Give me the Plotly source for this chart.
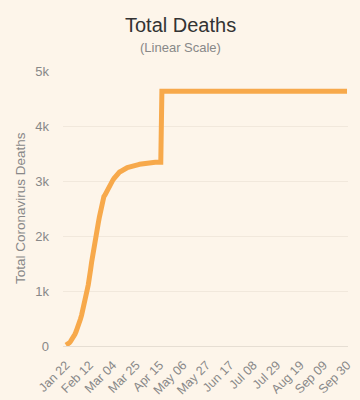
import pandas as pd
import plotly.graph_objects as go

# Daily totals Jan 22 - Apr 17, 2020
dates_early = pd.date_range("2020-01-22", "2020-04-17", freq="D")
deaths_early = [
    17, 25, 41, 56, 80, 106, 132, 170, 213, 259,
    304, 361, 425, 490, 562, 636, 723, 812, 909, 1017, 1114, 1368, 1381, 1524,
    1666, 1772, 1870, 2006, 2121, 2239, 2348, 2445, 2595, 2666, 2718, 2747,
    2791, 2838, 2873,
    2915, 2946, 2984, 3015, 3045, 3073, 3099, 3123, 3140, 3162, 3173, 3180,
    3194, 3204, 3218, 3231, 3242, 3250, 3253, 3261, 3267, 3274, 3281, 3285,
    3291, 3296, 3299, 3304, 3308, 3309, 3316,
    3322, 3326, 3329, 3331, 3331, 3333, 3335, 3336, 3339, 3340, 3340, 3341,
    3341, 3342, 3342, 3342, 4632,
]
# Plateau after the revision
dates_late = ["2020-05-06", "2020-05-27", "2020-06-17", "2020-07-08",
              "2020-07-29", "2020-08-19", "2020-09-09", "2020-09-30"]
deaths_late = [4633, 4634, 4634, 4634, 4634, 4634, 4634, 4634]

tick_dates = pd.date_range("2020-01-22", "2020-09-30", freq="21D")
tick_labels = ["Jan 22", "Feb 12", "Mar 04", "Mar 25", "Apr 15", "May 06",
               "May 27", "Jun 17", "Jul 08", "Jul 29", "Aug 19", "Sep 09", "Sep 30"]
y_ticks = [0, 1000, 2000, 3000, 4000, 5000]
y_labels = ["0", "1k", "2k", "3k", "4k", "5k"]

x = list(dates_early) + list(pd.to_datetime(dates_late))
y = deaths_early + deaths_late

bg = "#FDF5EA"
W, H = 360, 400
ML, MR, MT, MB = 63, 12, 71, 54

fig = go.Figure(go.Scatter(
    x=x, y=y, mode="lines",
    line=dict(color="#F7A94B", width=5),
    cliponaxis=False, hoverinfo="skip",
))

plot_h = H - MT - MB
plot_w = W - ML - MR
def py(pix):  # window pixel y -> paper
    return (H - MB - pix) / plot_h
def px(pix):  # window pixel x -> paper
    return (pix - ML) / plot_w

fig.update_layout(
    width=W, height=H,
    paper_bgcolor=bg, plot_bgcolor=bg,
    margin=dict(l=ML, r=MR, t=MT, b=MB, autoexpand=False),
    showlegend=False,
    font=dict(family="Liberation Sans, Arial, sans-serif", color="#888"),
    annotations=[
        dict(text="Total Deaths", x=px(180), y=py(25), xref="paper", yref="paper",
             xanchor="center", yanchor="middle",
             showarrow=False, font=dict(size=20, color="#333")),
        dict(text="(Linear Scale)", x=px(180), y=py(48), xref="paper", yref="paper",
             xanchor="center", yanchor="middle",
             showarrow=False, font=dict(size=13, color="#888")),
        dict(text="Total Coronavirus Deaths", x=px(20), y=py(208),
             xref="paper", yref="paper", xanchor="center", yanchor="middle",
             showarrow=False, textangle=-90, font=dict(size=13.5, color="#888")),
    ],
)

fig.update_xaxes(
    type="date",
    range=["2020-01-19 08:00", "2020-09-30 21:00"],
    tickvals=list(tick_dates), ticktext=tick_labels,
    tickangle=-45, tickfont=dict(size=12.5, color="#888"),
    showgrid=False, zeroline=False,
    showline=True, linecolor="#E6DED3", linewidth=1,
    ticks="", ticklabelstandoff=6, fixedrange=True,
)
fig.update_yaxes(
    range=[0, 5000],
    tickvals=y_ticks, ticktext=y_labels,
    tickfont=dict(size=13, color="#888"),
    showgrid=True, gridcolor="#F1E8DC", gridwidth=1,
    zeroline=False, showline=False, ticks="",
    ticklabelstandoff=13, fixedrange=True,
)

fig.write_html(
    "out.html",
    config={"displayModeBar": False},
    post_script="document.body.style.margin='0';"
                "document.body.style.background='" + bg + "';",
)
